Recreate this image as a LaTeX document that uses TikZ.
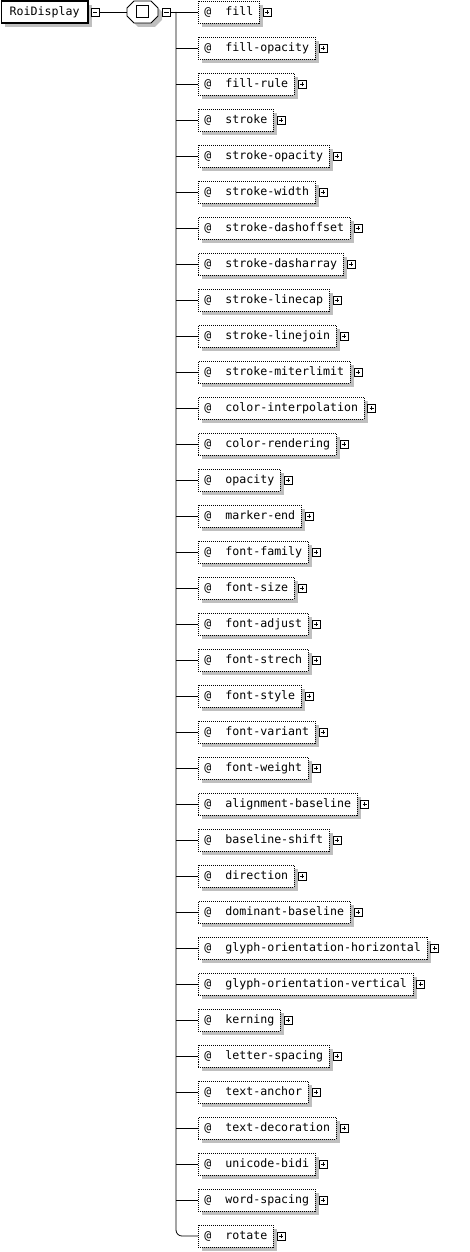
\documentclass[tikz,border=0pt]{standalone}
\usepackage{fontspec}
\setmonofont{DejaVu Sans Mono}
\usetikzlibrary{positioning,shadows}

\tikzset{
	tree/.style={line width=0.8pt},
	elembox/.style={draw, line width=1.2pt, fill=white, minimum height=22pt, inner xsep=8.5pt, inner ysep=0pt,
		general shadow={fill=black!25, shadow xshift=4pt, shadow yshift=-4pt}},
	attrbox/.style={draw, line width=0.8pt, dash pattern=on 1pt off 1pt, fill=white, minimum height=22pt,
		inner xsep=6pt, inner ysep=0pt, anchor=west,
		general shadow={fill=black!25, shadow xshift=4pt, shadow yshift=-4pt}},
	minusbox/.style={draw, line width=0.8pt, fill=white, minimum size=8pt, inner sep=0pt,
		path picture={\draw[line width=0.8pt] ([xshift=1.8pt]path picture bounding box.west) -- ([xshift=-1.8pt]path picture bounding box.east);}},
	plusbox/.style={draw, line width=0.8pt, fill=white, minimum size=8pt, inner sep=0pt,
		path picture={\draw[line width=0.8pt] ([xshift=1.8pt]path picture bounding box.west) -- ([xshift=-1.8pt]path picture bounding box.east)
			([yshift=1.8pt]path picture bounding box.south) -- ([yshift=-1.8pt]path picture bounding box.north);}},
}
\newcommand{\attrtext}[1]{@\hspace{14pt}#1\hspace{2pt}}
\newcommand{\octpath}{(134,1) -- (151,1) -- (158,8) -- (158,16) -- (151,23) -- (134,23) -- (127,16) -- (127,8) -- cycle}

\begin{document}
\begin{tikzpicture}[x=1pt,y=-1pt,font=\ttfamily\fontsize{11.6pt}{14pt}\selectfont]
	\useasboundingbox (0,0) rectangle (470,1252);

	\node (root) at (0.6,12)   [elembox, anchor=west] {RoiDisplay};
	\node (m1)   at (95,12)    [minusbox]             {};

	% octagon of the compositor
	\fill [black!25, shift={(4,4)}] \octpath;
	\draw [line width=0.8pt, fill=white] \octpath;
	\node (seq)  at (142.5,12) [minimum width=31pt, minimum height=22pt, inner sep=0pt] {};
	\node (sq)   at (142,11.5) [draw, line width=0.8pt, minimum size=12pt, inner sep=0pt] {};
	\node (m2)   at (166.5,12) [minusbox]             {};

	\draw [tree] (m1) -- (seq);

	\foreach \name [count=\i] in {fill,fill-opacity,fill-rule,stroke,stroke-opacity,stroke-width,
		stroke-dashoffset,stroke-dasharray,stroke-linecap,stroke-linejoin,stroke-miterlimit,
		color-interpolation,color-rendering,opacity,marker-end,font-family,font-size,font-adjust,
		font-strech,font-style,font-variant,font-weight,alignment-baseline,baseline-shift,direction,
		dominant-baseline,glyph-orientation-horizontal,glyph-orientation-vertical,kerning,
		letter-spacing,text-anchor,text-decoration,unicode-bidi,word-spacing,rotate}
	{
		\pgfmathsetmacro{\y}{12+36*(\i-1)}
		\coordinate (t\i) at (176,\y);
		\node (a\i) at (198,\y) [attrbox] {\attrtext{\name}};
		\node (p\i) [plusbox, right=3pt of a\i] {};
		\ifnum\i<35 \draw [tree] (t\i) -- (a\i.west); \fi
	}

	\draw [tree] (m2) -- (a1.west);
	\draw [tree, rounded corners=6pt] (t1) |- (a35.west);
\end{tikzpicture}
\end{document}
